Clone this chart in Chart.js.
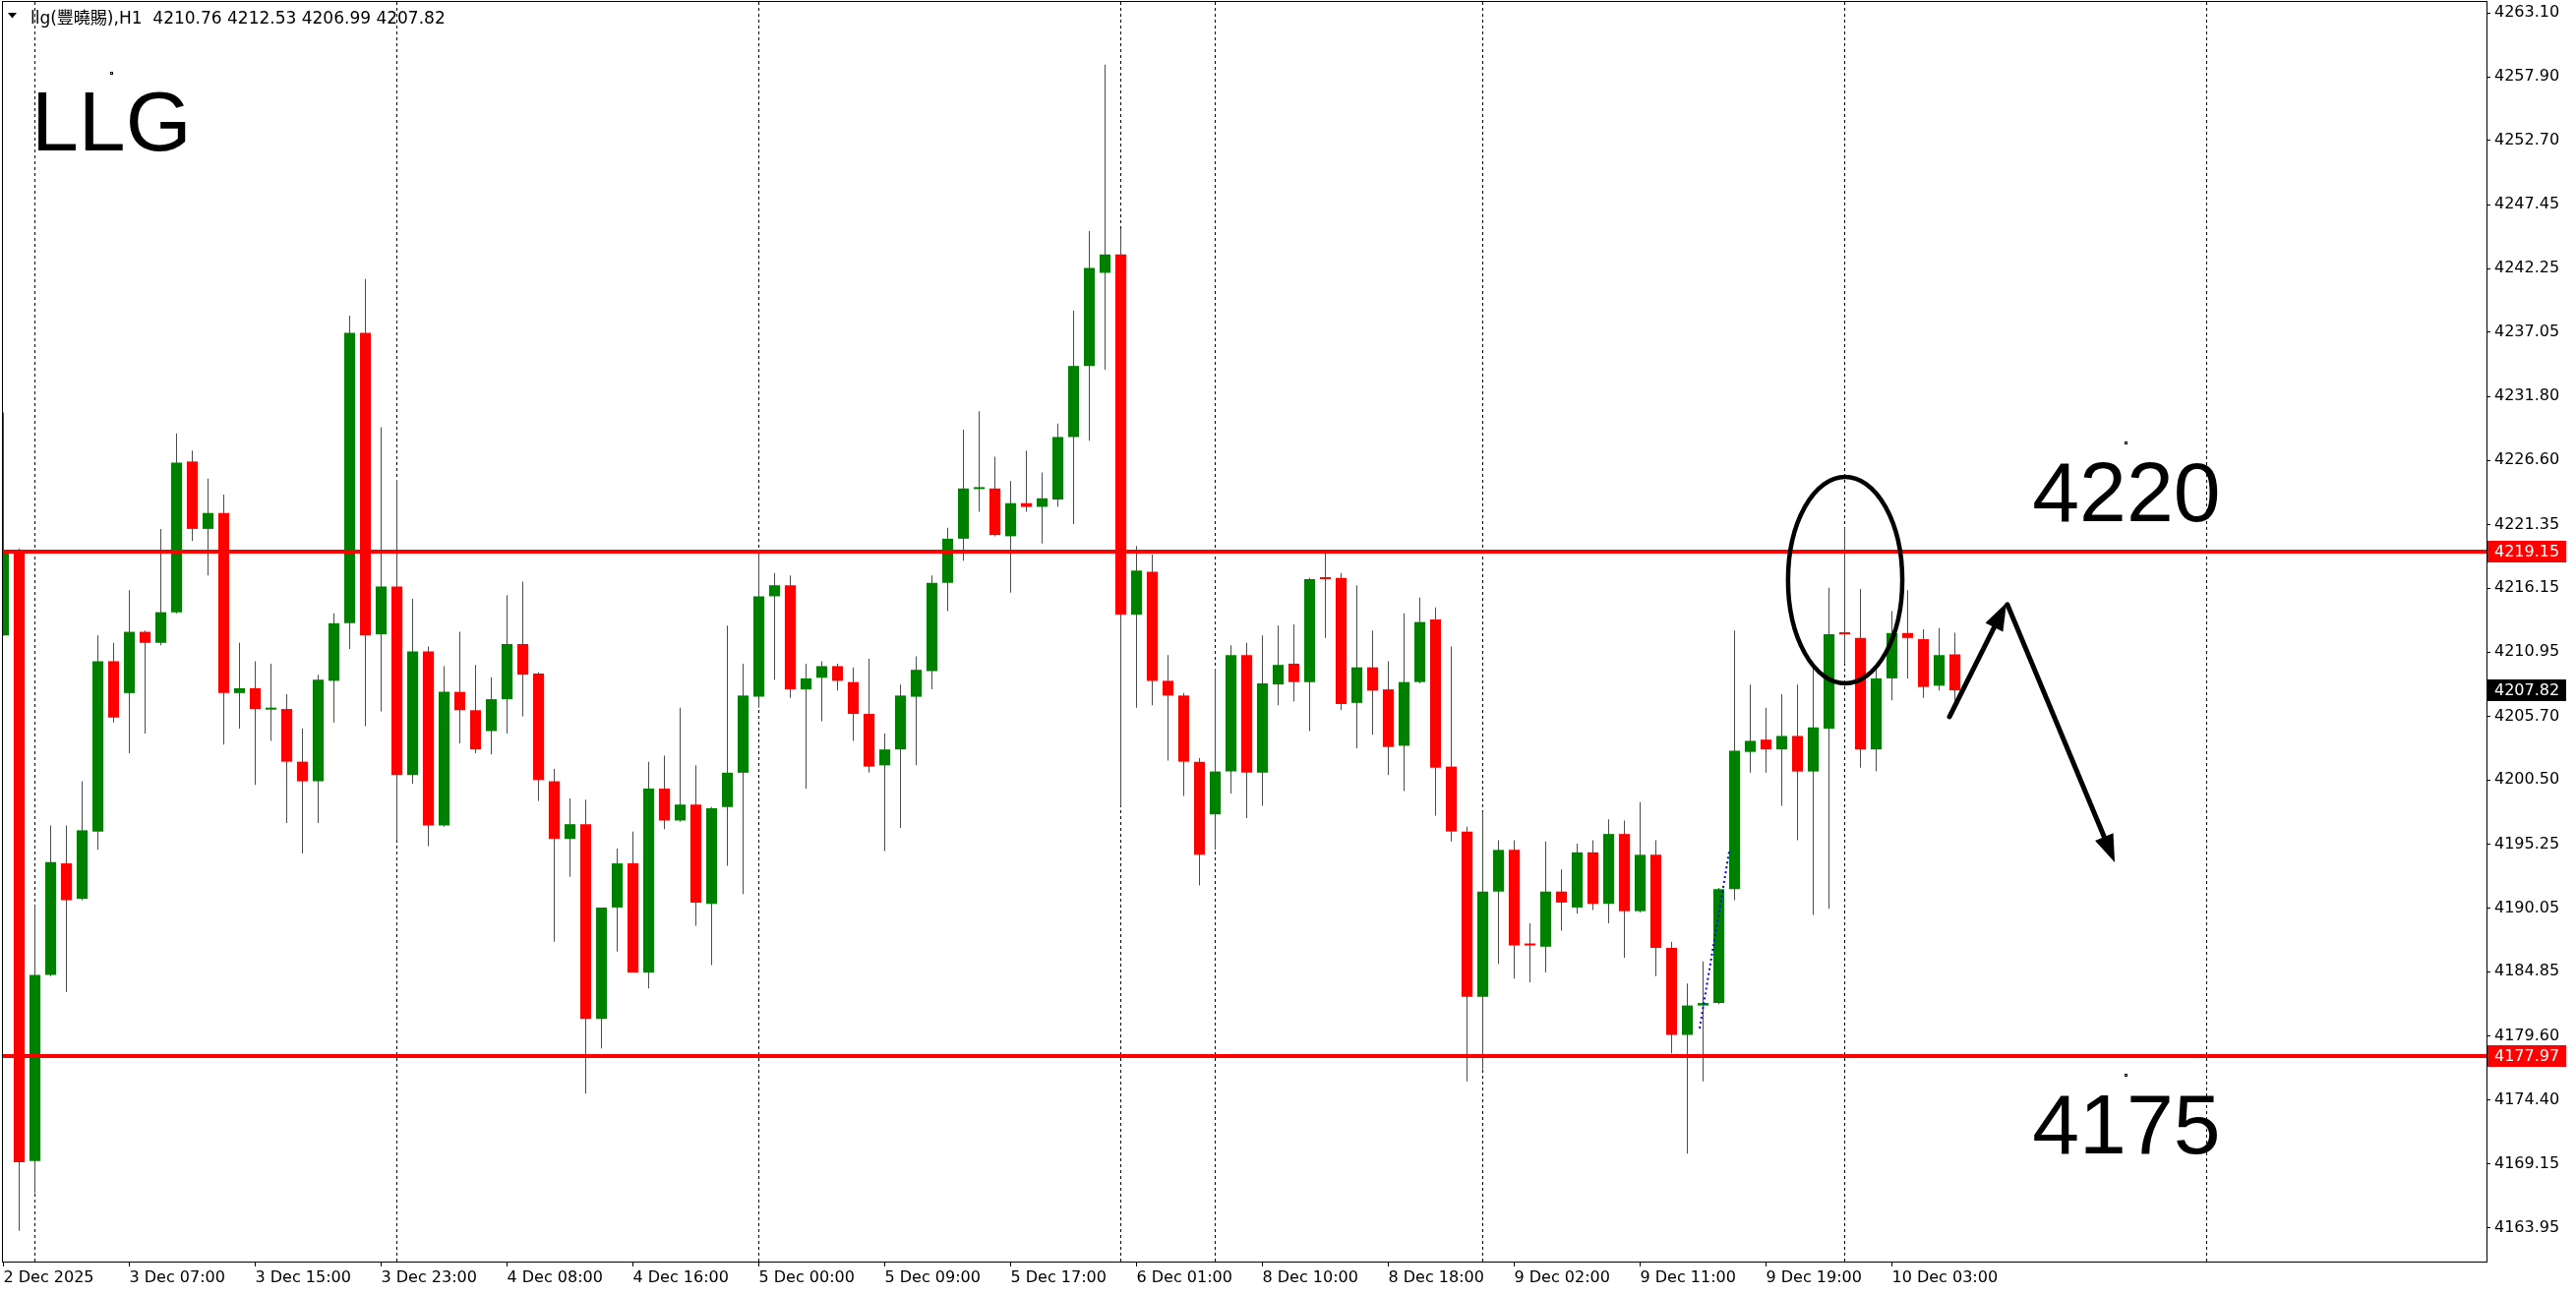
<!DOCTYPE html>
<html>
<head>
<meta charset="utf-8">
<script src="https://cdn.jsdelivr.net/npm/chart.js@4.4.1/dist/chart.umd.min.js"></script>
<style>
  html, body { margin: 0; padding: 0; background: #fff; }
  canvas { display: block; }
</style>
</head>
<body>
<canvas id="chart" width="2619" height="1316"></canvas>
<script>
// H1 candles (index 0 = 2 Dec 2025 late)
const opens = [
  4212.3, 4219.15, 4169.4, 4184.6, 4193.7, 4190.8, 4196.3, 4210.2, 4207.6, 4212.6,
  4211.7, 4214.2, 4226.5, 4221.0, 4222.3, 4207.6, 4208.0, 4206.25, 4206.3, 4202.0,
  4200.4, 4208.6, 4213.3, 4237.0, 4212.4, 4216.3, 4200.9, 4211.0, 4196.8, 4207.7,
  4206.2, 4204.5, 4207.1, 4211.6, 4209.2, 4200.4, 4195.7, 4196.9, 4181.0, 4190.1,
  4193.7, 4184.8, 4199.8, 4197.2, 4198.5, 4190.4, 4198.3, 4201.1, 4207.3, 4215.5,
  4216.4, 4207.9, 4208.85, 4209.8, 4208.5, 4205.9, 4201.7, 4203.0, 4207.3, 4209.4,
  4216.6, 4220.2, 4224.25, 4224.3, 4220.4, 4223.1, 4222.8, 4223.4, 4228.5, 4234.3,
  4241.9, 4243.4, 4214.0, 4217.5, 4208.6, 4207.4, 4202.0, 4197.7, 4201.2, 4210.7,
  4201.1, 4208.3, 4210.0, 4208.5, 4216.95, 4217.0, 4206.8, 4209.7, 4207.9, 4203.3,
  4208.5, 4213.6, 4201.6, 4196.3, 4182.8, 4191.4, 4194.8, 4187.05, 4186.9, 4191.4,
  4190.1, 4194.6, 4190.4, 4196.1, 4189.8, 4194.4, 4186.8, 4179.7, 4182.1, 4182.3,
  4191.6, 4202.8, 4203.8, 4203.0, 4204.1, 4201.2, 4204.7, 4212.45, 4212.1, 4203.0,
  4208.8, 4212.5, 4212.0, 4208.2, 4210.76
];
const highs = [
  4230.5, 4219.4, 4190.3, 4196.8, 4196.8, 4200.4, 4212.3, 4211.7, 4216.0, 4212.7,
  4221.0, 4228.8, 4227.4, 4225.1, 4223.8, 4211.7, 4210.2, 4210.0, 4207.5, 4204.7,
  4209.1, 4214.1, 4238.4, 4241.4, 4229.3, 4225.0, 4215.3, 4211.4, 4209.8, 4212.6,
  4209.9, 4208.9, 4215.6, 4216.7, 4209.3, 4201.4, 4199.0, 4198.9, 4190.1, 4194.9,
  4196.3, 4202.0, 4202.5, 4206.4, 4201.7, 4198.3, 4213.1, 4210.0, 4219.1, 4217.4,
  4217.2, 4210.0, 4210.2, 4210.0, 4209.7, 4210.4, 4204.3, 4208.3, 4210.6, 4217.2,
  4221.1, 4229.1, 4230.6, 4226.9, 4224.9, 4227.4, 4225.6, 4229.6, 4238.8, 4245.3,
  4258.9, 4245.5, 4219.6, 4218.9, 4210.7, 4207.6, 4202.3, 4209.6, 4211.5, 4211.7,
  4212.3, 4213.1, 4213.2, 4217.0, 4219.0, 4217.4, 4216.4, 4212.7, 4210.2, 4214.1,
  4215.4, 4214.6, 4211.4, 4196.7, 4197.9, 4195.6, 4195.6, 4188.8, 4195.5, 4193.2,
  4195.3, 4195.6, 4197.3, 4197.2, 4198.7, 4195.6, 4187.3, 4183.9, 4185.7, 4191.7,
  4212.7, 4208.3, 4206.4, 4207.5, 4208.3, 4209.8, 4216.2, 4221.1, 4216.1, 4209.6,
  4214.3, 4216.0, 4212.8, 4212.9, 4212.53
];
const lows = [
  4212.3, 4163.7, 4166.8, 4184.5, 4183.2, 4190.7, 4194.8, 4205.2, 4202.7, 4204.3,
  4211.5, 4214.1, 4220.0, 4217.2, 4203.4, 4204.7, 4200.1, 4203.7, 4197.0, 4194.5,
  4197.0, 4205.2, 4211.2, 4204.9, 4206.1, 4195.6, 4200.2, 4195.1, 4196.7, 4203.5,
  4202.7, 4202.6, 4204.3, 4205.7, 4198.8, 4187.3, 4192.6, 4174.9, 4178.6, 4186.5,
  4184.8, 4183.5, 4196.5, 4197.1, 4188.6, 4185.4, 4193.5, 4191.2, 4206.4, 4208.7,
  4207.2, 4199.8, 4205.3, 4207.8, 4203.7, 4201.1, 4194.7, 4196.6, 4201.7, 4207.9,
  4214.3, 4218.4, 4222.4, 4220.4, 4215.8, 4222.4, 4219.8, 4222.8, 4221.4, 4228.2,
  4234.0, 4198.4, 4206.4, 4206.6, 4202.1, 4199.2, 4191.9, 4194.8, 4199.4, 4197.4,
  4198.4, 4206.6, 4206.9, 4204.5, 4212.1, 4206.2, 4203.1, 4204.2, 4200.9, 4199.6,
  4208.4, 4197.6, 4195.5, 4175.9, 4176.9, 4185.5, 4184.3, 4184.0, 4184.8, 4188.2,
  4189.6, 4189.9, 4188.8, 4186.0, 4189.7, 4184.5, 4178.2, 4170.0, 4175.9, 4182.2,
  4190.7, 4201.1, 4201.1, 4198.4, 4195.6, 4189.5, 4190.0, 4210.0, 4201.5, 4201.2,
  4207.0, 4208.8, 4207.2, 4207.8, 4206.99
];
const closes = [
  4219.1, 4169.3, 4184.6, 4193.8, 4190.7, 4196.4, 4210.2, 4205.6, 4212.6, 4211.7,
  4214.2, 4226.4, 4221.0, 4222.3, 4207.6, 4208.0, 4206.3, 4206.3, 4202.0, 4200.4,
  4208.7, 4213.3, 4237.0, 4212.3, 4216.3, 4200.9, 4211.0, 4196.8, 4207.7, 4206.2,
  4203.0, 4207.1, 4211.6, 4209.1, 4200.5, 4195.7, 4196.9, 4181.0, 4190.1, 4193.7,
  4184.8, 4199.8, 4197.2, 4198.5, 4190.5, 4198.2, 4201.1, 4207.4, 4215.5, 4216.4,
  4207.9, 4208.8, 4209.8, 4208.6, 4205.9, 4201.6, 4203.0, 4207.4, 4209.5, 4216.6,
  4220.2, 4224.3, 4224.3, 4220.5, 4223.1, 4222.8, 4223.5, 4228.5, 4234.3, 4242.3,
  4243.4, 4214.0, 4217.6, 4208.6, 4207.4, 4202.0, 4194.4, 4201.2, 4210.7, 4201.1,
  4208.4, 4209.9, 4208.5, 4216.9, 4216.9, 4206.7, 4209.7, 4207.8, 4203.2, 4208.5,
  4213.4, 4201.5, 4196.3, 4182.8, 4191.4, 4194.8, 4187.0, 4187.0, 4191.4, 4190.5,
  4194.6, 4190.4, 4196.1, 4189.8, 4194.4, 4186.8, 4179.7, 4182.1, 4182.3, 4191.6,
  4202.9, 4203.7, 4203.0, 4204.1, 4201.2, 4204.8, 4212.4, 4212.4, 4203.0, 4208.8,
  4212.5, 4212.1, 4208.1, 4210.7, 4207.82
];

const xLabels = [
  "2 Dec 2025", "3 Dec 07:00", "3 Dec 15:00", "3 Dec 23:00", "4 Dec 08:00", "4 Dec 16:00",
  "5 Dec 00:00", "5 Dec 09:00", "5 Dec 17:00", "6 Dec 01:00", "8 Dec 10:00", "8 Dec 18:00",
  "9 Dec 02:00", "9 Dec 11:00", "9 Dec 19:00", "10 Dec 03:00"
];
const xLabelPos = [0, 8, 16, 24, 32, 40, 48, 56, 64, 72, 80, 88, 96, 104, 112, 120];

const yTicks = [
  4263.10, 4257.90, 4252.70, 4247.45, 4242.25, 4237.05, 4231.80, 4226.60, 4221.35, 4216.15,
  4210.95, 4205.70, 4200.50, 4195.25, 4190.05, 4184.85, 4179.60, 4174.40, 4169.15, 4163.95
];

// day separators (bar index) and horizontal levels
const separators = [2, 25, 48, 71, 77, 94, 117, 140];
const levels = [4219.15, 4177.97];
const lastPrice = closes[closes.length - 1];

// drawn objects, in bar index / price units
const ellipseObj = { idx: 117.03, price: 4216.82, rIdx: 3.63, rPrice: 8.43 };
const arrowUp = { from: [123.66, 4205.67], to: [127.28, 4214.98] };
const arrowDown = { from: [127.34, 4214.82], to: [134.16, 4193.79] };
const textObjs = [
  { text: "4220", idx: 134.9, price: 4227.98 },
  { text: "4175", idx: 134.9, price: 4176.37 }
];
const blueTrend = { from: [107.78, 4180.23], to: [109.66, 4194.68] };

const GREEN = "#008000";
const RED = "#ff0000";
const colors = opens.map((o, i) => (closes[i] >= o ? GREEN : RED));

const AXIS_FONT = { family: "'DejaVu Sans', Tahoma, sans-serif", size: 16 };

function arrow(ctx, x1, y1, x2, y2) {
  const ang = Math.atan2(y2 - y1, x2 - x1);
  const len = 28, half = 10;
  const bx = x2 - Math.cos(ang) * len;
  const by = y2 - Math.sin(ang) * len;
  ctx.beginPath();
  ctx.moveTo(x1, y1);
  ctx.lineTo(bx + Math.cos(ang) * 4, by + Math.sin(ang) * 4);
  ctx.stroke();
  ctx.beginPath();
  ctx.moveTo(x2, y2);
  ctx.lineTo(bx + Math.sin(ang) * half, by - Math.cos(ang) * half);
  ctx.lineTo(bx - Math.sin(ang) * half, by + Math.cos(ang) * half);
  ctx.closePath();
  ctx.fill();
}

function priceBox(ctx, y, value, bg) {
  ctx.fillStyle = bg;
  ctx.fillRect(2529, Math.round(y) - 11, 80, 22);
  ctx.fillStyle = "#fff";
  ctx.font = "16px 'DejaVu Sans', Tahoma, sans-serif";
  ctx.textAlign = "left";
  ctx.textBaseline = "middle";
  ctx.fillText(value.toFixed(2), 2536, Math.round(y) + 1);
}

const mt4Plugin = {
  id: "mt4",
  beforeDatasetsDraw(chart) {
    const { ctx, chartArea: a, scales: { x } } = chart;
    ctx.save();
    ctx.strokeStyle = "#000";
    ctx.lineWidth = 1;
    ctx.setLineDash([3, 3]);
    separators.forEach(i => {
      const px = Math.floor(x.getPixelForValue(i)) + 0.5;
      ctx.beginPath();
      ctx.moveTo(px, a.top);
      ctx.lineTo(px, a.bottom);
      ctx.stroke();
    });
    ctx.restore();
  },
  afterDatasetsDraw(chart) {
    const { ctx, chartArea: a, scales: { x, y } } = chart;
    ctx.save();

    // support / resistance lines
    ctx.strokeStyle = RED;
    ctx.lineWidth = 4;
    levels.forEach(v => {
      const py = Math.round(y.getPixelForValue(v));
      ctx.beginPath();
      ctx.moveTo(a.left, py);
      ctx.lineTo(a.right, py);
      ctx.stroke();
    });

    // blue dotted trend fragment
    ctx.strokeStyle = "#0000ff";
    ctx.lineWidth = 2;
    ctx.setLineDash([2, 3]);
    ctx.beginPath();
    ctx.moveTo(x.getPixelForValue(blueTrend.from[0]), y.getPixelForValue(blueTrend.from[1]));
    ctx.lineTo(x.getPixelForValue(blueTrend.to[0]), y.getPixelForValue(blueTrend.to[1]));
    ctx.stroke();
    ctx.setLineDash([]);

    // ellipse around the spike
    ctx.strokeStyle = "#000";
    ctx.lineWidth = 4.5;
    const cx = x.getPixelForValue(ellipseObj.idx);
    const cy = y.getPixelForValue(ellipseObj.price);
    const rx = x.getPixelForValue(ellipseObj.idx + ellipseObj.rIdx) - cx;
    const ry = cy - y.getPixelForValue(ellipseObj.price + ellipseObj.rPrice);
    ctx.beginPath();
    ctx.ellipse(cx, cy, rx, ry, 0, 0, Math.PI * 2);
    ctx.stroke();

    // arrows
    ctx.fillStyle = "#000";
    ctx.lineWidth = 5;
    ctx.lineCap = "round";
    [arrowUp, arrowDown].forEach(ar => {
      arrow(ctx,
        x.getPixelForValue(ar.from[0]), y.getPixelForValue(ar.from[1]),
        x.getPixelForValue(ar.to[0]), y.getPixelForValue(ar.to[1]));
    });

    // level texts
    ctx.font = "86px 'Liberation Sans', Arial, sans-serif";
    ctx.textAlign = "center";
    ctx.textBaseline = "alphabetic";
    ctx.lineWidth = 1;
    textObjs.forEach(t => {
      const px = x.getPixelForValue(t.idx);
      const py = y.getPixelForValue(t.price);
      ctx.fillText(t.text, px, py + 79);
      ctx.strokeRect(Math.round(px) - 1.5, Math.round(py) - 1.5, 2, 2);
    });

    // big symbol caption
    ctx.textAlign = "left";
    ctx.fillText("LLG", 32, 153);
    ctx.strokeRect(112.5, 73.5, 2, 2);

    // frame
    ctx.strokeStyle = "#000";
    ctx.lineWidth = 1;
    ctx.strokeRect(a.left - 0.5, a.top - 0.5, a.right - a.left + 1, a.bottom - a.top + 1);

    // header line
    ctx.beginPath();
    ctx.moveTo(8, 13);
    ctx.lineTo(17, 13);
    ctx.lineTo(12.5, 18.5);
    ctx.closePath();
    ctx.fill();
    const last = opens.length - 1;
    const header = "llg(豐曉賜),H1  " + [opens[last], highs[last], lows[last], closes[last]]
      .map(v => v.toFixed(2)).join(" ");
    ctx.font = "17px 'DejaVu Sans', 'Noto Sans CJK TC', sans-serif";
    ctx.fillText(header, 31, 24);

    // price labels on the axis
    levels.forEach(v => priceBox(ctx, y.getPixelForValue(v), v, RED));
    priceBox(ctx, y.getPixelForValue(lastPrice), lastPrice, "#000");

    ctx.restore();
  }
};

new Chart(document.getElementById("chart").getContext("2d"), {
  type: "bar",
  data: {
    datasets: [
      {
        label: "body",
        data: opens.map((o, i) => ({ x: i, y: [o, closes[i]] })),
        backgroundColor: colors,
        borderWidth: 0,
        barThickness: 11,
        minBarLength: 2,
        inflateAmount: 0,
        grouped: false,
        order: 0
      },
      {
        label: "wick",
        data: opens.map((o, i) => ({ x: i, y: [lows[i], highs[i]] })),
        backgroundColor: colors,
        borderWidth: 0,
        barThickness: 1,
        inflateAmount: 0,
        grouped: false,
        order: 1
      }
    ]
  },
  options: {
    responsive: false,
    devicePixelRatio: 1,
    animation: false,
    layout: { padding: { left: 3, top: 2, right: 0, bottom: 0 } },
    plugins: {
      legend: { display: false },
      tooltip: { enabled: false }
    },
    scales: {
      x: {
        type: "linear",
        position: "bottom",
        min: -0.03125,
        max: 157.78125,
        offset: false,
        afterBuildTicks: s => { s.ticks = xLabelPos.map(v => ({ value: v })); },
        afterFit: s => { s.height = 33; s.paddingLeft = 0; s.paddingRight = 0; },
        ticks: {
          autoSkip: false,
          maxRotation: 0,
          align: "start",
          padding: 2,
          color: "#000",
          font: AXIS_FONT,
          callback: (v, i) => xLabels[i]
        },
        grid: { offset: false, drawOnChartArea: false, tickLength: 5, color: "#000" },
        border: { display: false }
      },
      y: {
        type: "linear",
        position: "right",
        min: 4161.20,
        max: 4264.01,
        afterBuildTicks: s => { s.ticks = yTicks.map(v => ({ value: v })); },
        afterFit: s => { s.width = 91; s.paddingTop = 0; s.paddingBottom = 0; },
        ticks: {
          autoSkip: false,
          padding: 4,
          color: "#000",
          font: AXIS_FONT,
          callback: v => v.toFixed(2)
        },
        grid: { drawOnChartArea: false, tickLength: 4, color: "#000" },
        border: { display: false }
      }
    }
  },
  plugins: [mt4Plugin]
});
</script>
</body>
</html>
